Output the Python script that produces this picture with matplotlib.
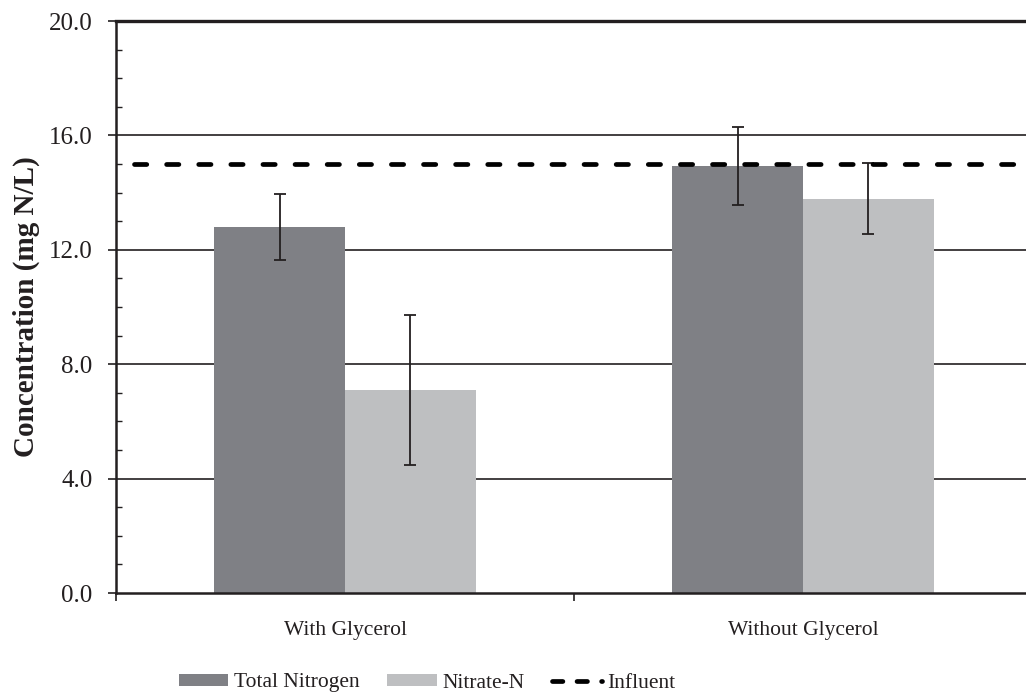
import numpy as np
import matplotlib
matplotlib.use("Agg")
import matplotlib.pyplot as plt
from matplotlib.patches import Patch
from matplotlib.lines import Line2D

# Dados: concentração média e desvio padrão (mg N/L)
categorias = ["With Glycerol", "Without Glycerol"]
nitrogenio_total = [12.8, 14.93]
nitrogenio_total_erro = [1.16, 1.35]
nitrato = [7.1, 13.78]
nitrato_erro = [2.62, 1.24]
afluente = 15.0

cor_tn = "#7f8085"
cor_no3 = "#bebfc1"
cor_texto = "#231f20"

plt.rcParams['font.family'] = ['Liberation Serif', 'DejaVu Serif']

fig = plt.figure(figsize=(10.26, 6.94), dpi=100)
ax = fig.add_axes([116 / 1026, 1 - 593 / 694, 916 / 1026, (593 - 21) / 694])

x = np.arange(len(categorias))
largura = 0.286

ax.bar(x - largura / 2, nitrogenio_total, largura, color=cor_tn, zorder=2)
ax.bar(x + largura / 2, nitrato, largura, color=cor_no3, zorder=2)

ax.errorbar(x - largura / 2, nitrogenio_total, yerr=nitrogenio_total_erro, fmt='none',
            ecolor=cor_texto, elinewidth=1.3, capsize=4.5, capthick=1.3, zorder=3)
ax.errorbar(x + largura / 2, nitrato, yerr=nitrato_erro, fmt='none',
            ecolor=cor_texto, elinewidth=1.3, capsize=4.5, capthick=1.3, zorder=3)

# Linha tracejada do afluente
ax.axhline(afluente, xmin=0.02, xmax=1.0, color='black', lw=3.4,
           dashes=(2.6, 4.2), dash_capstyle='round', zorder=4)

ax.set_xlim(-0.5, 1.5)
ax.set_ylim(0, 20)

# Grade horizontal
for v in [4, 8, 12, 16]:
    ax.axhline(v, color=cor_texto, lw=1.2, zorder=1)
ax.axhline(20, color=cor_texto, lw=2.4, zorder=1, clip_on=False)

ax.set_yticks([0, 4, 8, 12, 16, 20])
ax.set_yticklabels([f"{v:.1f}" for v in [0, 4, 8, 12, 16, 20]], fontsize=18)
ax.set_yticks(np.arange(0, 21, 1), minor=True)
ax.tick_params(axis='y', which='major', direction='out', length=6, width=1.2,
               pad=11, colors=cor_texto)
ax.tick_params(axis='y', which='minor', direction='in', length=4.5, width=1.0,
               color=cor_texto)

ax.set_xticks([-0.5, 0.5, 1.5])
ax.set_xticklabels([])
ax.set_xticks(x, minor=True)
ax.set_xticklabels(categorias, minor=True, fontsize=15.5)
ax.tick_params(axis='x', which='major', direction='out', length=6, width=1.2,
               color=cor_texto)
ax.tick_params(axis='x', which='minor', length=0, pad=20, labelcolor=cor_texto)

for lado in ['top', 'right']:
    ax.spines[lado].set_visible(False)
for lado in ['left', 'bottom']:
    ax.spines[lado].set_linewidth(1.8)
    ax.spines[lado].set_color(cor_texto)

ax.set_ylabel("Concentration (mg N/L)", fontsize=21, fontweight='bold',
              color=cor_texto, labelpad=6)

handles = [Patch(facecolor=cor_tn, edgecolor='none'),
           Patch(facecolor=cor_no3, edgecolor='none'),
           Line2D([0], [0], color='black', lw=3.4, dashes=(2.2, 3.0),
                  dash_capstyle='round')]
fig.legend(handles, ["Total Nitrogen", "Nitrate-N", "Influent"], loc='center',
           bbox_to_anchor=(427 / 1026, 1 - 683 / 694), ncol=3, frameon=False,
           fontsize=15.5, handlelength=2.3, handleheight=0.45, handletextpad=0.25,
           columnspacing=1.3, labelcolor=cor_texto)

fig.savefig("out.png", dpi=100)
